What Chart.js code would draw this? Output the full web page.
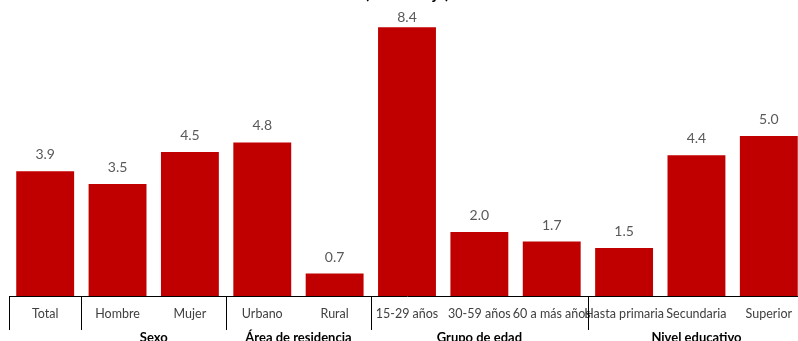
<!DOCTYPE html>
<html><head><meta charset="utf-8">
<script src="https://cdn.jsdelivr.net/npm/chart.js@4"></script>
<style>
html,body{margin:0;padding:0;overflow:hidden;background:#fff;width:798px;height:341px;}
#wrap{position:absolute;left:0;top:-20px;width:808px;height:375px;}
</style></head><body>
<div id="wrap"><canvas id="c" width="808" height="375"></canvas></div>
<script>
const titleText = "(Porcentaje)";
const categories = ["Total","Hombre","Mujer","Urbano","Rural","15-29 años","30-59 años","60 a más años","Hasta primaria","Secundaria","Superior"];
const values = [3.9,3.5,4.5,4.8,0.7,8.4,2.0,1.7,1.5,4.4,5.0];
const groups = ["","Sexo","Sexo","Área de residencia","Área de residencia","Grupo de edad","Grupo de edad","Grupo de edad","Nivel educativo","Nivel educativo","Nivel educativo"];

const FONT = "Lato, 'Open Sans', sans-serif";

const extras = {
  id: 'extras',
  afterDatasetsDraw(chart) {
    const ctx = chart.ctx;
    const meta = chart.getDatasetMeta(0);
    const area = chart.chartArea;
    ctx.save();
    ctx.font = "14px " + FONT;
    ctx.fillStyle = "#595959";
    ctx.textAlign = "center";
    ctx.textBaseline = "alphabetic";
    meta.data.forEach((bar, i) => {
      const y = Math.max(bar.y - 12, area.top + 14);
      ctx.fillText(values[i].toFixed(1), bar.x, y);
    });
    ctx.restore();
  },
  afterDraw(chart) {
    const ctx = chart.ctx;
    const xs = chart.scales.x;
    const area = chart.chartArea;
    const n = categories.length;
    const cw = xs.width / n;
    const bounds = [0];
    for (let i = 1; i < n; i++) if (groups[i] !== groups[i-1]) bounds.push(i);
    bounds.push(n);
    ctx.save();
    ctx.strokeStyle = "#000";
    ctx.lineWidth = 1;
    bounds.forEach(k => {
      const x = Math.round(xs.left + k * cw) + 0.5;
      ctx.beginPath();
      ctx.moveTo(x, area.bottom);
      ctx.lineTo(x, area.bottom + 34);
      ctx.stroke();
    });
    ctx.font = "bold 13px " + FONT;
    ctx.fillStyle = "#000";
    ctx.textAlign = "center";
    ctx.textBaseline = "alphabetic";
    let s = 0;
    for (let i = 1; i <= n; i++) {
      if (i === n || groups[i] !== groups[s]) {
        if (groups[s]) {
          const cx = xs.left + (s + i) / 2 * cw;
          ctx.fillText(groups[s], cx, area.bottom + 46);
        }
        s = i;
      }
    }
    ctx.font = "bold 16px " + FONT;
    ctx.fillText(titleText, (area.left + area.right) / 2, 18.5);
    ctx.restore();
  }
};

new Chart(document.getElementById('c'), {
  type: 'bar',
  data: {
    labels: categories,
    datasets: [{
      data: values,
      backgroundColor: '#C00000',
      borderWidth: 0,
      categoryPercentage: 1.0,
      barPercentage: 0.8
    }]
  },
  options: {
    responsive: false,
    animation: false,
    layout: { padding: { left: 9, right: 3, top: 28, bottom: 0 } },
    plugins: { legend: { display: false }, title: { display: false }, tooltip: { enabled: false } },
    scales: {
      x: {
        grid: { display: false, drawTicks: false },
        border: { display: true, color: '#000', width: 1 },
        ticks: {
          autoSkip: false, maxRotation: 0, minRotation: 0,
          color: '#404040', padding: 10,
          font: { family: FONT, size: 12.5 }
        },
        afterFit(s) { s.height = 59; }
      },
      y: {
        display: false,
        min: 0, max: 9,
        grid: { display: false }
      }
    }
  },
  plugins: [extras]
});
</script>
</body></html>
